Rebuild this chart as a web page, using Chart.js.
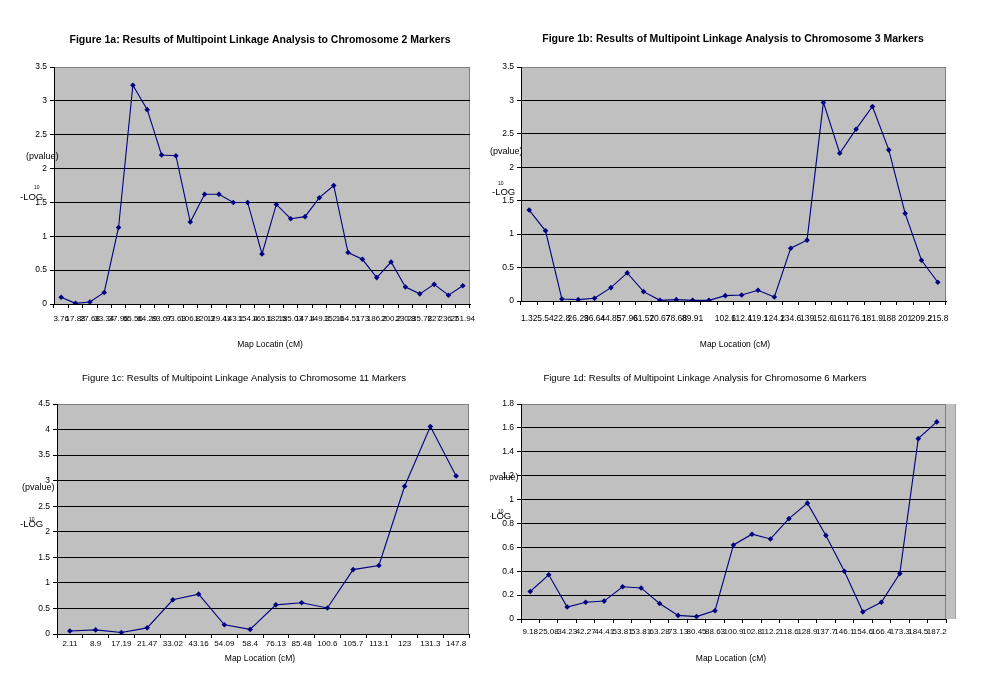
<!DOCTYPE html>
<html>
<head>
<meta charset="utf-8">
<script src="https://cdn.jsdelivr.net/npm/chart.js@4.4.1/dist/chart.umd.min.js"></script>
<style>
  html, body { margin: 0; padding: 0; background: #fff; }
  #wrap { position: relative; width: 999px; height: 683px; overflow: hidden; }
  canvas { position: absolute; }
</style>
</head>
<body>
<div id="wrap">
  <canvas id="c1a" width="490" height="355" style="left:0;top:0"></canvas>
  <canvas id="c1b" width="509" height="355" style="left:490px;top:0"></canvas>
  <canvas id="c1c" width="490" height="328" style="left:0;top:355px"></canvas>
  <canvas id="c1d" width="509" height="328" style="left:490px;top:355px"></canvas>
</div>
<script>
// --- data ---
const chr2Labels = ["3.76", "17.88", "27.68", "33.34", "37.96", "55.56", "64.29", "83.67", "93.63",
  "106.8", "120.3", "129.41", "143.1", "154.4", "165.1", "182.5", "185.03", "147.4", "149.3",
  "152.0", "164.51", "173", "186.2", "200.2", "230.8", "235.78", "227", "236.7", "251.94"];
const chr2Values = [0.10, 0.01, 0.03, 0.17, 1.13, 3.23, 2.87, 2.20, 2.19, 1.21, 1.62, 1.62, 1.50,
  1.50, 0.74, 1.47, 1.26, 1.29, 1.57, 1.75, 0.76, 0.66, 0.39, 0.62, 0.25, 0.15, 0.29, 0.13, 0.27];

const chr3Labels = ["1.32", "5.54", "22.8", "26.29", "36.64", "44.85", "57.96", "61.52", "70.67",
  "78.68", "89.91", "", "102.6", "112.4", "119.1", "124.2", "134.6", "139", "152.6", "161",
  "176.1", "181.9", "188", "201", "209.2", "215.8"];
const chr3Values = [1.36, 1.05, 0.03, 0.02, 0.04, 0.20, 0.42, 0.14, 0.01, 0.02, 0.01, 0.01, 0.08,
  0.09, 0.16, 0.06, 0.79, 0.91, 2.97, 2.21, 2.57, 2.91, 2.26, 1.31, 0.61, 0.28];

const chr11Labels = ["2.11", "8.9", "17.19", "21.47", "33.02", "43.16", "54.09", "58.4", "76.13",
  "85.48", "100.6", "105.7", "113.1", "123", "131.3", "147.8"];
const chr11Values = [0.06, 0.08, 0.03, 0.12, 0.67, 0.78, 0.18, 0.09, 0.57, 0.61, 0.51, 1.26, 1.34,
  2.89, 4.06, 3.09];

const chr6Labels = ["9.18", "25.08", "34.23", "42.27", "44.41", "53.81", "53.81", "63.28", "73.13",
  "80.45", "88.63", "100.9", "102.8", "112.2", "118.6", "128.9", "137.7", "146.1", "154.6",
  "166.4", "173.3", "184.5", "187.2"];
const chr6Values = [0.23, 0.37, 0.10, 0.14, 0.15, 0.27, 0.26, 0.13, 0.03, 0.02, 0.07, 0.62, 0.71,
  0.67, 0.84, 0.97, 0.70, 0.40, 0.06, 0.14, 0.38, 1.51, 1.65];

const NAVY = "#000080";
const PLOT_GREY = "#c0c0c0";
const FONT = "'Liberation Sans', Arial, sans-serif";

// grey plot area, grey frame, plus free text (titles, axis names) in canvas coords
const excelLook = {
  id: "excelLook",
  beforeDraw(chart, args, opts) {
    const { ctx, chartArea: a } = chart;
    ctx.save();
    ctx.fillStyle = PLOT_GREY;
    ctx.fillRect(a.left, a.top, a.right - a.left, a.bottom - a.top);
    if (opts.strip) {
      ctx.fillRect(a.right, a.top, opts.strip, a.bottom - a.top);
      ctx.strokeStyle = "#a0a0a0";
      ctx.beginPath();
      ctx.moveTo(a.right + opts.strip + 0.5, a.top);
      ctx.lineTo(a.right + opts.strip + 0.5, a.bottom);
      ctx.stroke();
    }
    ctx.strokeStyle = "#808080";
    ctx.lineWidth = 1;
    ctx.strokeRect(a.left + 0.5, a.top + 0.5, a.right - a.left - 1, a.bottom - a.top);
    ctx.restore();
  },
  afterDraw(chart, args, opts) {
    const ctx = chart.ctx;
    ctx.save();
    ctx.fillStyle = "#000";
    ctx.textBaseline = "middle";
    (opts.texts || []).forEach((t) => {
      ctx.font = t.font;
      ctx.textAlign = t.align || "left";
      if (t.w) ctx.fillText(t.text, t.x, t.y, t.w);
      else ctx.fillText(t.text, t.x, t.y);
    });
    ctx.restore();
  },
};

function yLabelTexts(px, py, lx, ly, sx, sy) {
  return [
    { text: "(pvalue)", x: px, y: py, font: "9px " + FONT },
    { text: "-LOG", x: lx, y: ly, font: "9.5px " + FONT },
    { text: "10", x: sx, y: sy, font: "5px " + FONT },
  ];
}

function makePanel(id, p) {
  const canvas = document.getElementById(id);
  const W = canvas.width, H = canvas.height;
  const YW = 30, XH = 30;
  return new Chart(canvas.getContext("2d"), {
    type: "line",
    data: {
      labels: p.labels,
      datasets: [{
        data: p.values,
        borderColor: NAVY,
        backgroundColor: NAVY,
        borderWidth: 1.1,
        tension: 0,
        pointStyle: "rectRot",
        pointRadius: 2.8,
        pointBorderWidth: 0,
      }],
    },
    options: {
      responsive: false,
      animation: false,
      layout: {
        padding: { left: p.l - YW, top: p.t, right: W - p.r, bottom: H - p.b - XH },
      },
      plugins: {
        legend: { display: false },
        tooltip: { enabled: false },
        excelLook: { texts: p.texts, strip: p.strip || 0 },
      },
      scales: {
        x: {
          offset: true,
          afterFit: (s) => { s.height = XH; },
          grid: { offset: true, drawOnChartArea: false, tickLength: 4, tickColor: "#000" },
          border: { color: "#000", width: 1 },
          ticks: {
            autoSkip: false, maxRotation: 0, minRotation: 0, padding: p.xpad,
            color: "#000", font: { family: FONT, size: p.xfont || 7.5 },
          },
        },
        y: {
          min: 0, max: p.max,
          afterFit: (s) => { s.width = YW; },
          grid: {
            color: (c) => (c.tick && Math.abs(c.tick.value - p.max) < 1e-6 ? "rgba(0,0,0,0)" : "#000"),
            tickLength: 4, tickColor: "#000",
          },
          border: { color: "#000", width: 1 },
          ticks: {
            stepSize: p.step, padding: 3, color: "#000",
            font: { family: FONT, size: 8.5 },
            callback: (v) => String(Math.round(v * 10) / 10),
          },
        },
      },
    },
    plugins: [excelLook],
  });
}

makePanel("c1a", {
  labels: chr2Labels, values: chr2Values, max: 3.5, step: 0.5,
  l: 54, t: 67, r: 470, b: 304, xpad: 6, xfont: 8,
  texts: [
    { text: "Figure 1a: Results of Multipoint Linkage Analysis to Chromosome 2 Markers",
      x: 260, y: 40, font: "bold 10.5px " + FONT, align: "center", w: 385 },
    { text: "Map Locatin (cM)", x: 270, y: 345, font: "8.5px " + FONT, align: "center" },
  ].concat(yLabelTexts(26, 157, 20, 197, 34, 188)),
});

makePanel("c1b", {
  labels: chr3Labels, values: chr3Values, max: 3.5, step: 0.5,
  l: 31, t: 67, r: 456, b: 301, xpad: 9, xfont: 8.5,
  texts: [
    { text: "Figure 1b: Results of Multipoint Linkage Analysis to Chromosome 3 Markers",
      x: 243, y: 39, font: "bold 10.5px " + FONT, align: "center", w: 387 },
    { text: "Map Location (cM)", x: 245, y: 345, font: "8.5px " + FONT, align: "center" },
  ].concat(yLabelTexts(0, 152, 2, 192, 8, 184)),
});

makePanel("c1c", {
  labels: chr11Labels, values: chr11Values, max: 4.5, step: 0.5,
  l: 57, t: 49, r: 469, b: 279, xpad: 1, xfont: 8,
  texts: [
    { text: "Figure 1c: Results of Multipoint Linkage Analysis to Chromosome 11 Markers",
      x: 244, y: 23, font: "9.5px " + FONT, align: "center", w: 325 },
    { text: "Map Location (cM)", x: 260, y: 304, font: "8.5px " + FONT, align: "center" },
  ].concat(yLabelTexts(22, 133, 20, 169, 29, 165)),
});

makePanel("c1d", {
  labels: chr6Labels, values: chr6Values, max: 1.8, step: 0.2,
  l: 31, t: 49, r: 456, b: 264, xpad: 4, xfont: 8, strip: 9,
  texts: [
    { text: "Figure 1d: Results of Multipoint Linkage Analysis for Chromosome 6 Markers",
      x: 215, y: 23, font: "9.5px " + FONT, align: "center", w: 333 },
    { text: "Map Location (cM)", x: 241, y: 304, font: "8.5px " + FONT, align: "center" },
  ].concat(yLabelTexts(-4, 123, -2, 161, 8, 157)),
});
</script>
</body>
</html>
